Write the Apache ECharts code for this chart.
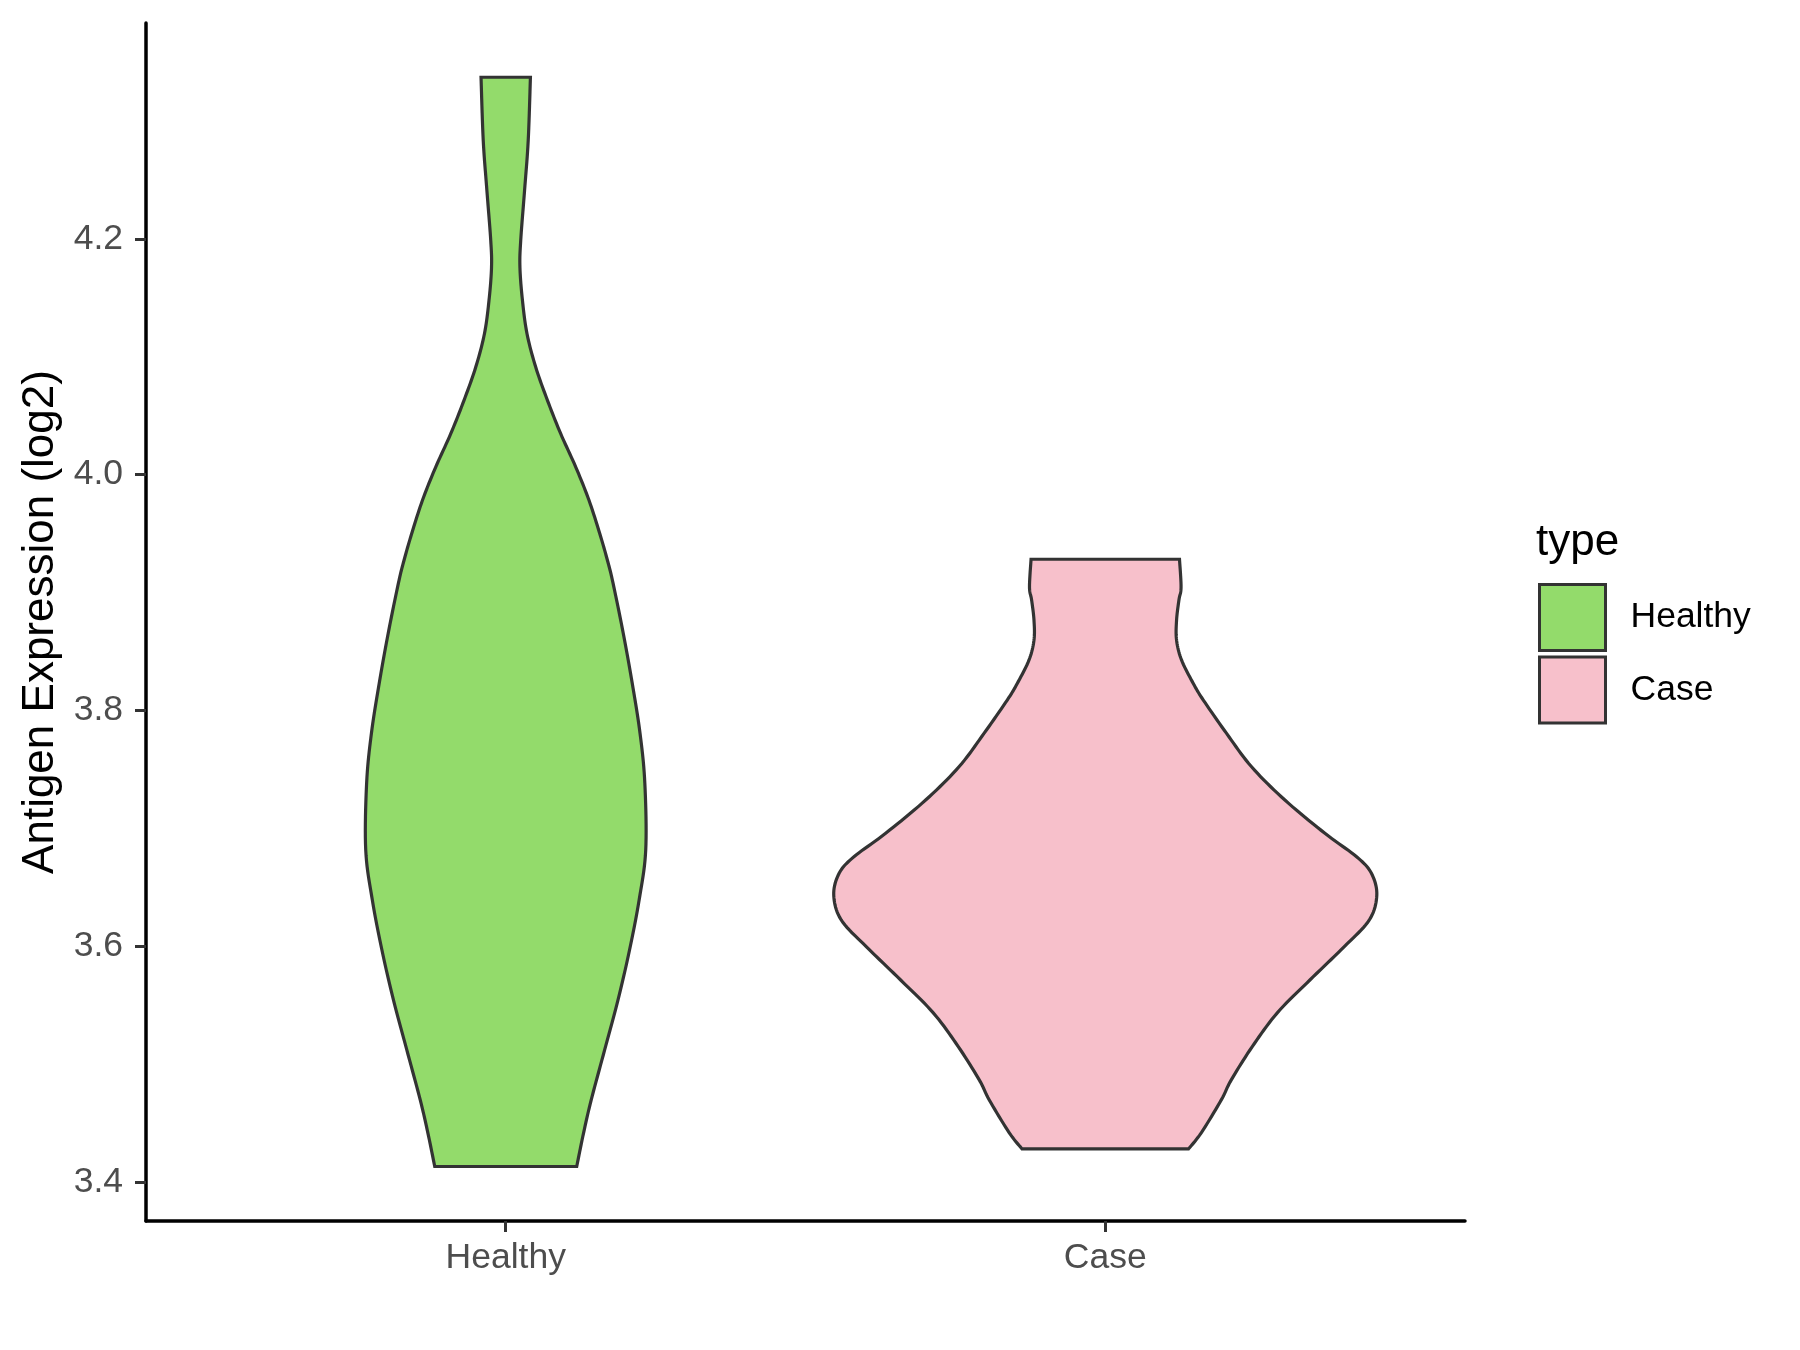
<!DOCTYPE html>
<html><head><meta charset="utf-8">
<script src="https://cdn.jsdelivr.net/npm/echarts@6/dist/echarts.min.js"></script>
<style>html,body{margin:0;padding:0;background:#fff}#chart{width:1800px;height:1350px}</style>
</head><body><div id="chart"></div>
<script>
// ---- data ----
const categories = ['Healthy', 'Case'];
const categoryPos = [1, 2];
const fillColors = ['#93DB6B', '#F7C0CB'];

// violin outlines: expression value (log2) and half-width (in x-category units), bottom -> top
const healthyValues = [3.4132, 3.4418, 3.4697, 3.5121, 3.5545, 3.5968, 3.6392, 3.6816, 3.7384, 3.7807, 3.8231, 3.8655, 3.9079, 3.9274, 3.9500, 3.9782, 4.0064, 4.0347, 4.0630, 4.0912, 4.1195, 4.1477, 4.1757, 4.1986, 4.2409, 4.2833, 4.3370];
const healthyHalfWidth = [0.1184, 0.1299, 0.1426, 0.1650, 0.1873, 0.2065, 0.2225, 0.2335, 0.2320, 0.2240, 0.2110, 0.1960, 0.1790, 0.1696, 0.1568, 0.1389, 0.1168, 0.0917, 0.0696, 0.0500, 0.0355, 0.0279, 0.0237, 0.0250, 0.0314, 0.0375, 0.0412];

const caseValues = [3.4282, 3.4418, 3.4697, 3.4867, 3.5149, 3.5435, 3.5714, 3.5997, 3.6223, 3.6434, 3.6621, 3.6759, 3.6958, 3.7240, 3.7522, 3.7805, 3.8088, 3.8229, 3.8426, 3.8596, 3.8765, 3.8935, 3.9045, 3.9282];
const caseHalfWidth = [0.1389, 0.1601, 0.1935, 0.2102, 0.2452, 0.2869, 0.3413, 0.3987, 0.4404, 0.4529, 0.4437, 0.4192, 0.3663, 0.2996, 0.2440, 0.2023, 0.1635, 0.1468, 0.1273, 0.1189, 0.1189, 0.1228, 0.1264, 0.1238];

const yTickValues = [3.4, 3.6, 3.8, 4.0, 4.2];
const yMin = 3.367, yMax = 4.383;
const xMin = 0.4, xMax = 2.6;

const violinValues = [healthyValues, caseValues];
const violinHalfWidth = [healthyHalfWidth, caseHalfWidth];

const FONT = 'Liberation Sans, Arial, sans-serif';

// Catmull-Rom smoothing of a pixel polyline (rendering only)
function smoothLine(pts) {
  const out = [];
  const n = pts.length;
  for (let i = 0; i < n - 1; i++) {
    const p0 = pts[Math.max(0, i - 1)], p1 = pts[i], p2 = pts[i + 1], p3 = pts[Math.min(n - 1, i + 2)];
    const c1 = [p1[0] + (p2[0] - p0[0]) / 6, p1[1] + (p2[1] - p0[1]) / 6];
    const c2 = [p2[0] - (p3[0] - p1[0]) / 6, p2[1] - (p3[1] - p1[1]) / 6];
    const steps = 10;
    for (let s = 0; s < steps; s++) {
      const t = s / steps, u = 1 - t;
      out.push([
        u*u*u*p1[0] + 3*u*u*t*c1[0] + 3*u*t*t*c2[0] + t*t*t*p2[0],
        u*u*u*p1[1] + 3*u*u*t*c1[1] + 3*u*t*t*c2[1] + t*t*t*p2[1]
      ]);
    }
  }
  out.push(pts[n - 1]);
  return out;
}

function makeRenderItem(k) {
  return function (params, api) {
    const pos = categoryPos[k];
    const vals = violinValues[k], hw = violinHalfWidth[k];
    const right = vals.map((v, i) => api.coord([pos + hw[i], v]));
    const left = vals.map((v, i) => api.coord([pos - hw[i], v]));
    const pts = smoothLine(right).concat(smoothLine(left.slice().reverse()));
    return {
      type: 'polygon',
      shape: { points: pts },
      style: { fill: fillColors[k], stroke: '#333333', lineWidth: 3.2, lineJoin: 'miter' }
    };
  };
}

const chart = echarts.init(document.getElementById('chart'), null, { renderer: 'canvas' });

const series = categories.map((name, k) => ({
  name: name,
  type: 'custom',
  coordinateSystem: 'cartesian2d',
  renderItem: makeRenderItem(k),
  data: [[categoryPos[k], violinValues[k][0]]],
  itemStyle: { color: fillColors[k], borderColor: '#333333', borderWidth: 3 },
  silent: true,
  animation: false
}));

chart.setOption({
  backgroundColor: '#ffffff',
  animation: false,
  grid: { left: 146, right: 335, top: 23, bottom: 129, containLabel: false },
  title: {
    text: 'type', left: 1536, top: 521, padding: 0,
    textStyle: { fontSize: 44, fontWeight: 'normal', color: '#000000', fontFamily: FONT }
  },
  legend: {
    data: categories,
    orient: 'vertical',
    left: 1538, top: 583,
    padding: 0,
    icon: 'rect',
    itemWidth: 66, itemHeight: 66, itemGap: 3.4,
    itemStyle: { borderColor: '#333333', borderWidth: 3 },
    textStyle: { fontSize: 35.5, color: '#000000', fontFamily: FONT, padding: [0, 0, 0, 20] },
    selectedMode: false
  },
  xAxis: {
    type: 'value', min: xMin, max: xMax,
    axisLine: { show: true, onZero: false, lineStyle: { color: '#000000', width: 3.5 } },
    axisTick: { show: true, length: 11, lineStyle: { color: '#333333', width: 3 }, customValues: categoryPos },
    axisLabel: {
      customValues: categoryPos,
      formatter: v => categories[categoryPos.indexOf(v)] || '',
      margin: 19, fontSize: 35.5, color: '#4D4D4D', fontFamily: FONT
    },
    splitLine: { show: false }
  },
  yAxis: {
    type: 'value', min: yMin, max: yMax,
    name: 'Antigen Expression (log2)',
    nameLocation: 'middle', nameGap: 80.5,
    nameTextStyle: { fontSize: 44, color: '#000000', fontFamily: FONT },
    axisLine: { show: true, onZero: false, lineStyle: { color: '#000000', width: 3.5 } },
    axisTick: { show: true, length: 11, lineStyle: { color: '#333333', width: 3 }, customValues: yTickValues },
    axisLabel: {
      customValues: yTickValues,
      formatter: v => Number(v).toFixed(1),
      margin: 23, fontSize: 35.5, color: '#4D4D4D', fontFamily: FONT
    },
    splitLine: { show: false }
  },
  series: series
});
</script>
</body></html>
